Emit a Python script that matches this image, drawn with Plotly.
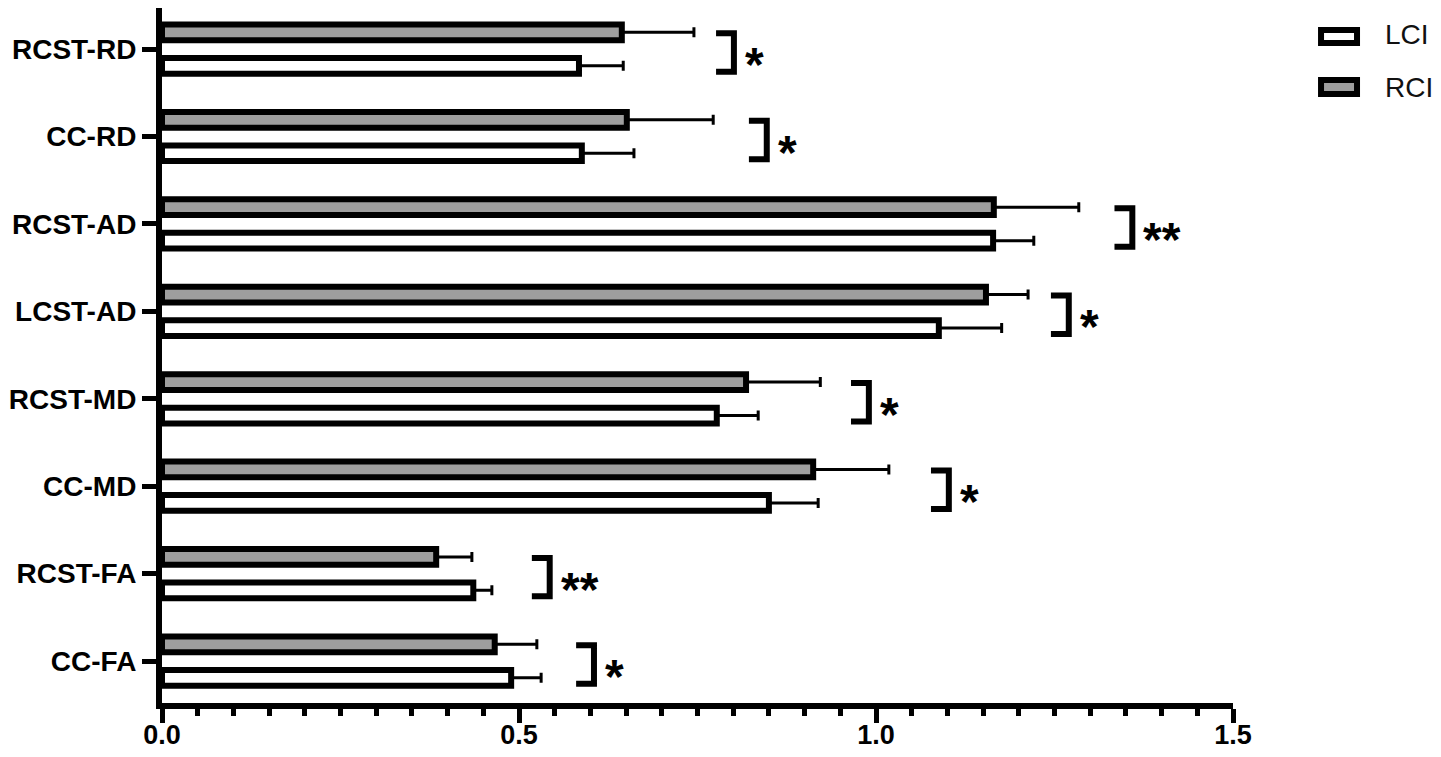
import plotly.graph_objects as go

# categories listed top to bottom, as they appear in the chart
CATEGORIES = ["RCST-RD", "CC-RD", "RCST-AD", "LCST-AD", "RCST-MD", "CC-MD", "RCST-FA", "CC-FA"]
LCI_MEAN = [0.584, 0.588, 1.164, 1.088, 0.777, 0.850, 0.436, 0.489]
LCI_SD = [0.062, 0.073, 0.057, 0.088, 0.058, 0.069, 0.026, 0.042]
RCI_MEAN = [0.644, 0.651, 1.165, 1.154, 0.818, 0.912, 0.384, 0.466]
RCI_SD = [0.101, 0.121, 0.119, 0.059, 0.104, 0.106, 0.050, 0.059]
SIGNIF = ["*", "*", "**", "*", "*", "*", "**", "*"]
BRACKET_X = [0.801, 0.847, 1.359, 1.270, 0.990, 1.102, 0.543, 0.605]
X_TICKS = [0.0, 0.5, 1.0, 1.5]

_BLACK = "#000000"
_GRAY = "#9e9e9e"
_FONT = "Liberation Sans, Arial, Helvetica, sans-serif"

n = len(CATEGORIES)
fig = go.Figure()

for name, mean, sd, fill in (("LCI", LCI_MEAN, LCI_SD, "white"), ("RCI", RCI_MEAN, RCI_SD, _GRAY)):
    fig.add_trace(
        go.Bar(
            name=name,
            y=CATEGORIES,
            x=mean,
            orientation="h",
            marker=dict(color=fill, line=dict(color=_BLACK, width=6)),
            error_x=dict(
                type="data",
                array=sd,
                arrayminus=[0] * n,
                symmetric=False,
                color=_BLACK,
                thickness=3,
                width=5,
            ),
            showlegend=False,
        )
    )

# significance brackets and stars
for i, (bx, label) in enumerate(zip(BRACKET_X, SIGNIF)):
    pos = n - 1 - i
    top, bot = pos + 0.18, pos - 0.26
    arm = 0.025
    fig.add_shape(
        type="path",
        path=f"M {bx - arm},{top} L {bx},{top} L {bx},{bot} L {bx - arm},{bot}",
        xref="x",
        yref="y",
        line=dict(color=_BLACK, width=6),
    )
    fig.add_annotation(
        x=bx,
        y=pos - 0.04,
        xref="x",
        yref="y",
        text=label,
        showarrow=False,
        xanchor="left",
        yanchor="middle",
        xshift=9,
        yshift=-12,
        font=dict(family=_FONT, size=48, color=_BLACK, weight="bold"),
    )

# hand-drawn legend in the right margin
for label, fill, y0, y1, ty in (("LCI", "white", 0.9496, 0.9683, 0.9612), ("RCI", _GRAY, 0.8763, 0.8964, 0.8863)):
    fig.add_shape(
        type="rect",
        xref="paper",
        yref="paper",
        x0=1.0822,
        x1=1.1158,
        y0=y0,
        y1=y1,
        fillcolor=fill,
        line=dict(color=_BLACK, width=6),
    )
    fig.add_annotation(
        x=1.1401,
        y=ty,
        xref="paper",
        yref="paper",
        text=label,
        showarrow=False,
        xanchor="left",
        yanchor="middle",
        font=dict(family=_FONT, size=28, color="#111111"),
    )

# the page body has an 8px margin, so the figure is sized to sit inside it
fig.update_layout(
    width=1425,
    height=741,
    barmode="group",
    bargap=0.234,
    bargroupgap=0.53,
    plot_bgcolor="white",
    paper_bgcolor="white",
    margin=dict(l=154, r=200, t=0, b=46),
    font=dict(family=_FONT, size=28, color=_BLACK),
)
fig.update_xaxes(
    range=[0, 1.5],
    tickvals=X_TICKS,
    tickformat=".1f",
    ticks="outside",
    ticklen=14,
    tickwidth=5,
    tickcolor=_BLACK,
    ticklabelstandoff=-11,
    minor=dict(dtick=0.05, ticks="outside", ticklen=7, tickwidth=5, tickcolor=_BLACK, showgrid=False),
    showline=True,
    linecolor=_BLACK,
    linewidth=6,
    showgrid=False,
    zeroline=False,
    automargin=False,
    tickfont=dict(family=_FONT, size=27, color=_BLACK, weight="bold"),
)
fig.update_yaxes(
    categoryorder="array",
    categoryarray=CATEGORIES[::-1],
    range=[-0.48, n - 0.53],
    ticks="outside",
    ticklen=14,
    tickwidth=5,
    tickcolor=_BLACK,
    showline=True,
    linecolor=_BLACK,
    linewidth=6,
    showgrid=False,
    zeroline=False,
    automargin=False,
    tickfont=dict(family=_FONT, size=28, color=_BLACK, weight="bold"),
)

fig.write_html("out.html")
